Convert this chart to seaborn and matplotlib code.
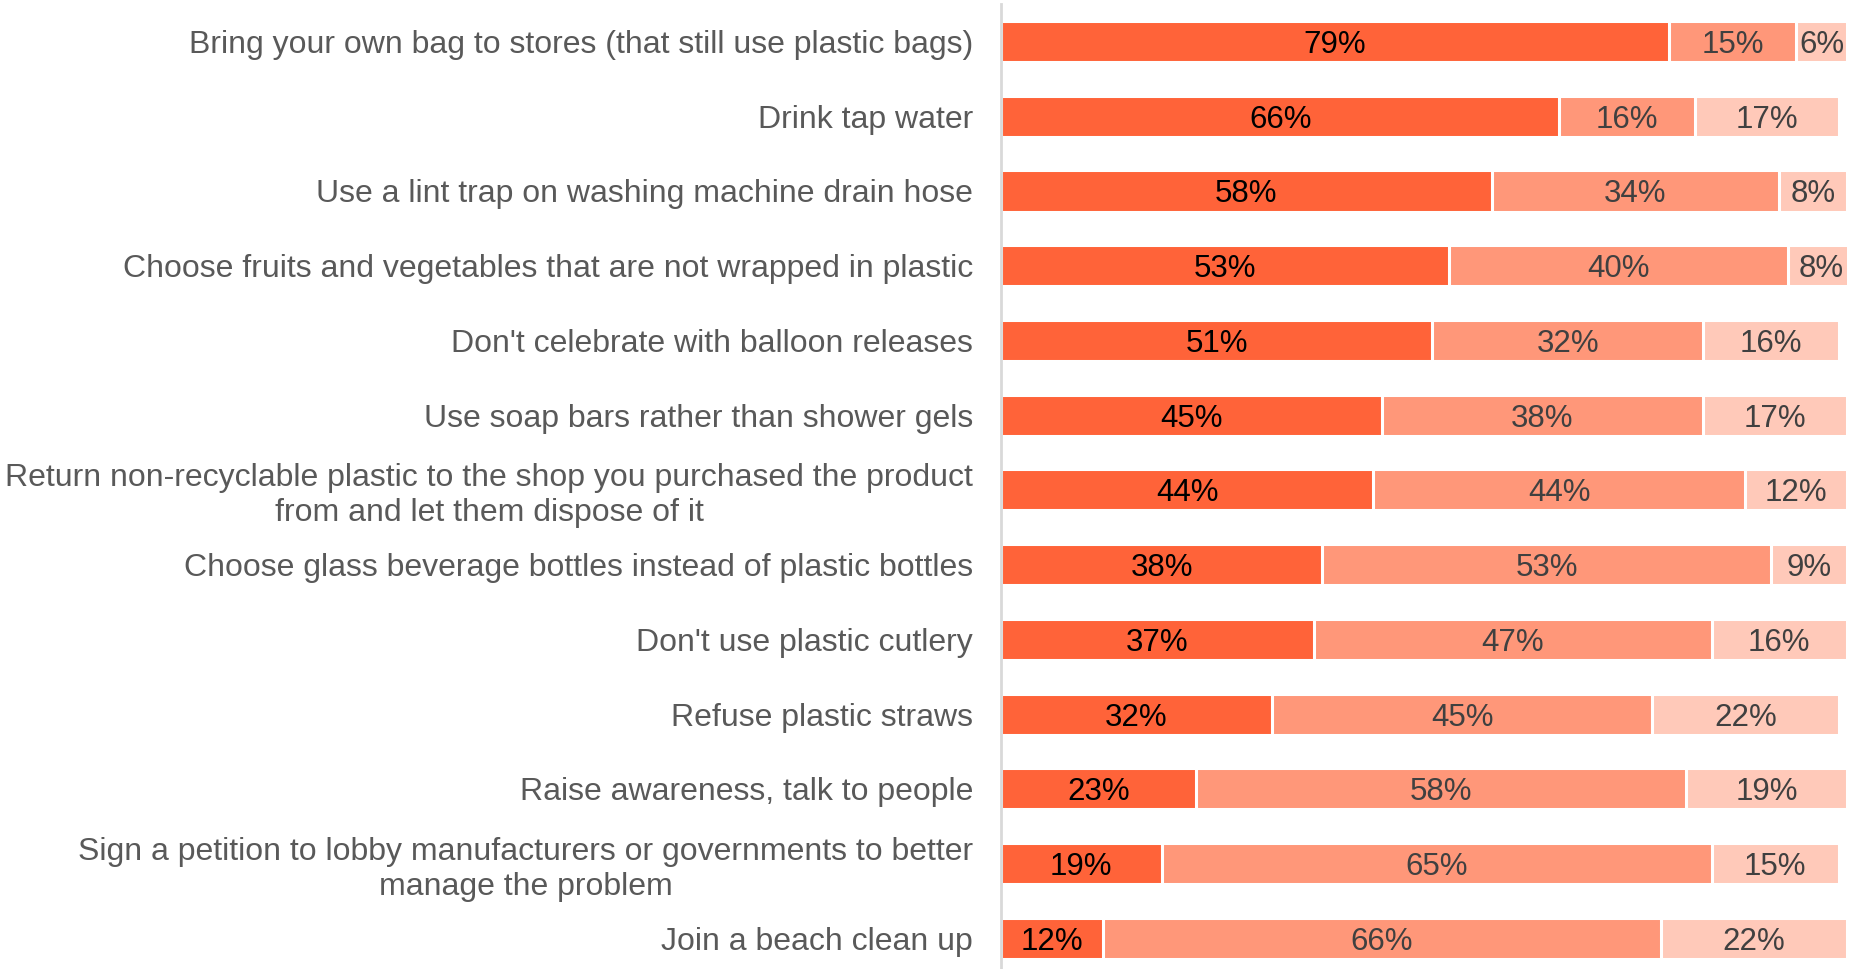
import matplotlib
matplotlib.use("Agg")
import matplotlib.pyplot as plt
import numpy as np
import pandas as pd
import seaborn as sns

actions = [
    "Bring your own bag to stores (that still use plastic bags)",
    "Drink tap water",
    "Use a lint trap on washing machine drain hose",
    "Choose fruits and vegetables that are not wrapped in plastic",
    "Don't celebrate with balloon releases",
    "Use soap bars rather than shower gels",
    "Return non-recyclable plastic to the shop you purchased the product\nfrom and let them dispose of it",
    "Choose glass beverage bottles instead of plastic bottles",
    "Don't use plastic cutlery",
    "Refuse plastic straws",
    "Raise awareness, talk to people",
    "Sign a petition to lobby manufacturers or governments to better\nmanage the problem",
    "Join a beach clean up",
]
already_do = [79, 66, 58, 53, 51, 45, 44, 38, 37, 32, 23, 19, 12]
would_do = [15, 16, 34, 40, 32, 38, 44, 53, 47, 45, 58, 65, 66]
would_not = [6, 17, 8, 8, 16, 17, 12, 9, 16, 22, 19, 15, 22]

colors = ["#FF6339", "#FF9779", "#FFC9B9"]
text_colors = ["#000000", "#404040", "#404040"]

sns.set_theme(style="white")
plt.rcParams["font.family"] = ["Liberation Sans", "DejaVu Sans"]

df = pd.DataFrame({
    "action": actions,
    "a": already_do,
    "b": would_do,
    "c": would_not,
})
df["ab"] = df["a"] + df["b"]
df["abc"] = df["ab"] + df["c"]

fig = plt.figure(figsize=(18.58, 9.69), dpi=100)
ax = fig.add_axes([1001 / 1858, 0.0, 846 / 1858, 1 - 4 / 969])

# Stacked bars: draw cumulative totals back to front
for col, color in zip(["abc", "ab", "a"], colors[::-1]):
    sns.barplot(data=df, x=col, y="action", orient="h", color=color,
                edgecolor="white", linewidth=2.2, width=0.55, ax=ax,
                saturation=1)

# Segment value labels
for i, row in df.iterrows():
    left = 0
    for j, key in enumerate(["a", "b", "c"]):
        v = row[key]
        ax.text(left + v / 2, i, f"{v}%", ha="center", va="center_baseline",
                fontsize=22.5, color=text_colors[j])
        left += v

ax.set_xlim(0, 100)
ax.set_ylim(12.41, -0.502)
ax.set_xlabel("")
ax.set_ylabel("")
ax.xaxis.set_visible(False)
ax.tick_params(axis="y", length=0, pad=20, labelsize=23, labelcolor="#595959")
for t in ax.get_yticklabels():
    t.set_multialignment("center")
    t.set_linespacing(1.2)

for side in ["top", "right", "bottom"]:
    ax.spines[side].set_visible(False)
ax.spines["left"].set_color("#D9D9D9")
ax.spines["left"].set_linewidth(2)

fig.savefig("out.png", dpi=100)
